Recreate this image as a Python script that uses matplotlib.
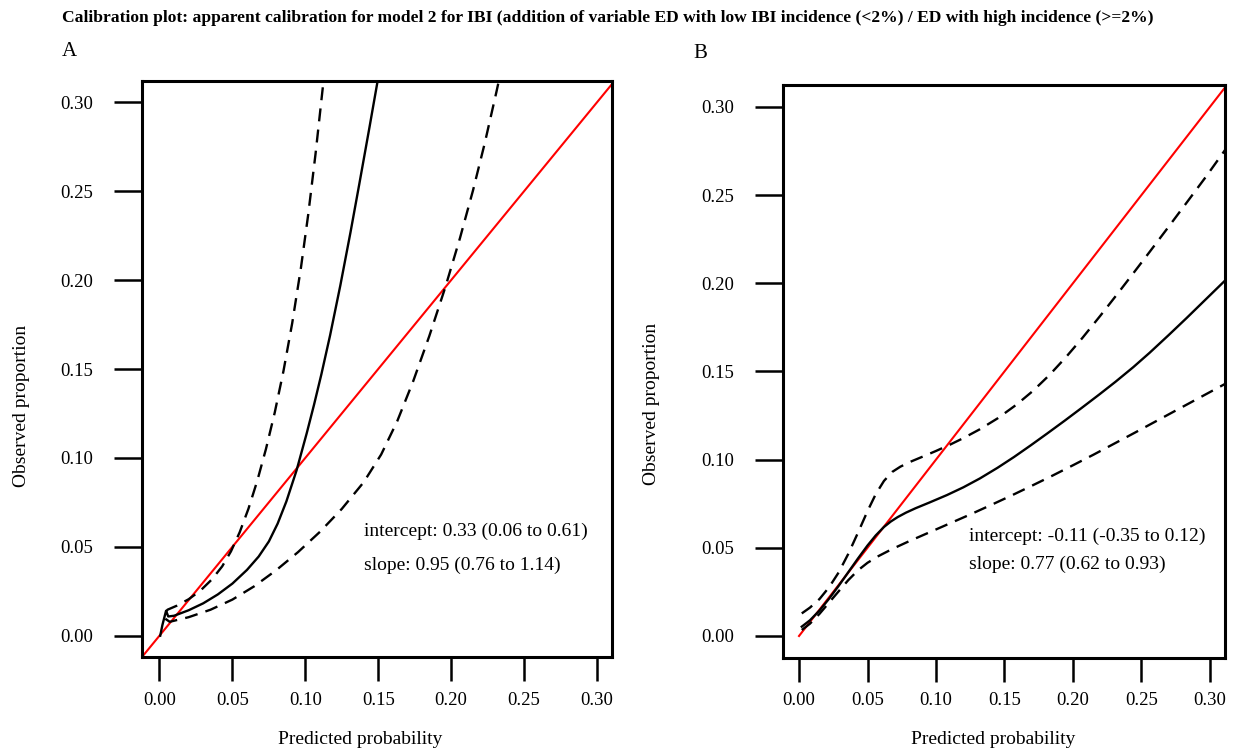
"""
Calibration plot, apparent calibration for model 2 (IBI)
Panel A: ED with low IBI incidence, Panel B: ED with high incidence
"""
import matplotlib
matplotlib.use("Agg")
import matplotlib.pyplot as plt

plt.rcParams['font.family'] = ['Liberation Serif', 'DejaVu Serif']

# ---- data ----
# panel A (low incidence)
a_fit_x = [0.0005, 0.002, 0.0045, 0.006, 0.010, 0.020, 0.030, 0.040, 0.050, 0.060,
           0.068, 0.075, 0.081, 0.087, 0.094, 0.101, 0.106, 0.111, 0.117, 0.124,
           0.131, 0.137, 0.144, 0.150, 0.152]
a_fit_y = [0.000, 0.006, 0.0140, 0.0108, 0.0112, 0.0143, 0.0182, 0.0232, 0.0293, 0.0370,
           0.0445, 0.0530, 0.0630, 0.0755, 0.093, 0.114, 0.130, 0.147, 0.169, 0.197,
           0.227, 0.254, 0.286, 0.314, 0.323]
a_up_x = [0.0045, 0.0055, 0.012, 0.020, 0.028, 0.036, 0.043, 0.049, 0.055, 0.061,
          0.067, 0.073, 0.079, 0.085, 0.091, 0.097, 0.102, 0.107, 0.112, 0.113]
a_up_y = [0.0135, 0.0146, 0.0169, 0.0205, 0.0253, 0.0317, 0.0390, 0.0474, 0.0582, 0.0714,
          0.0870, 0.105, 0.1254, 0.1488, 0.1758, 0.207, 0.237, 0.271, 0.3085, 0.316]
a_lo_x = [0.004, 0.007, 0.020, 0.035, 0.050, 0.065, 0.080, 0.095, 0.110, 0.125,
          0.140, 0.152, 0.163, 0.174, 0.185, 0.196, 0.206, 0.215, 0.223, 0.231, 0.234]
a_lo_y = [0.0095, 0.0078, 0.0104, 0.0146, 0.0203, 0.0278, 0.0368, 0.0470, 0.0584, 0.0713,
          0.0863, 0.1019, 0.1206, 0.1432, 0.1685, 0.196, 0.2235, 0.2505, 0.2769, 0.3057, 0.317]
a_ideal = [-0.05, 0.4]

# panel B (high incidence)
b_fit_x = [0.002, 0.008, 0.015, 0.022, 0.029, 0.036, 0.043, 0.050, 0.056, 0.062,
           0.067, 0.072, 0.078, 0.085, 0.095, 0.108, 0.120, 0.132, 0.145, 0.157,
           0.169, 0.181, 0.194, 0.206, 0.219, 0.231, 0.244, 0.256, 0.270, 0.283,
           0.297, 0.311]
b_fit_y = [0.0053, 0.0089, 0.0145, 0.0212, 0.0285, 0.0362, 0.0439, 0.0513, 0.0570, 0.0618,
           0.0649, 0.0674, 0.0699, 0.0724, 0.0756, 0.0799, 0.0843, 0.0893, 0.0954, 0.1015,
           0.1080, 0.1147, 0.1221, 0.1291, 0.1368, 0.1441, 0.1524, 0.1606, 0.1707, 0.1803,
           0.1909, 0.2015]
b_up_x = [0.002, 0.008, 0.015, 0.022, 0.029, 0.036, 0.043, 0.050, 0.056, 0.062,
          0.068, 0.074, 0.082, 0.090, 0.100, 0.110, 0.120, 0.132, 0.145, 0.159,
          0.171, 0.183, 0.195, 0.207, 0.220, 0.232, 0.244, 0.256, 0.270, 0.283,
          0.297, 0.311]
b_up_y = [0.0128, 0.0161, 0.0210, 0.0277, 0.0361, 0.0466, 0.0585, 0.0708, 0.0804, 0.0879,
          0.0930, 0.0960, 0.0990, 0.1016, 0.1049, 0.1084, 0.1122, 0.1172, 0.1234, 0.1313,
          0.1391, 0.1481, 0.1582, 0.1691, 0.1816, 0.1935, 0.2056, 0.2178, 0.2322, 0.2457,
          0.2603, 0.2755]
b_lo_x = [0.002, 0.008, 0.015, 0.022, 0.029, 0.036, 0.043, 0.050, 0.058, 0.068,
          0.080, 0.095, 0.110, 0.125, 0.140, 0.155, 0.170, 0.185, 0.200, 0.215,
          0.230, 0.245, 0.260, 0.275, 0.290, 0.311]
b_lo_y = [0.0034, 0.0070, 0.0126, 0.0190, 0.0254, 0.0317, 0.0372, 0.0415, 0.0453, 0.0493,
          0.0536, 0.0587, 0.0638, 0.0689, 0.0742, 0.0796, 0.0852, 0.0909, 0.0968, 0.1028,
          0.1090, 0.1152, 0.1215, 0.1278, 0.1341, 0.1429]
b_ideal = [0.0, 0.4]

ticks = [0.00, 0.05, 0.10, 0.15, 0.20, 0.25, 0.30]
tick_labels = ["0.00", "0.05", "0.10", "0.15", "0.20", "0.25", "0.30"]

title = ("Calibration plot: apparent calibration for model 2 for IBI (addition of variable ED "
         "with low IBI incidence (<2%) / ED with high incidence (>=2%)")
a_stats = ["intercept: 0.33 (0.06 to 0.61)", "slope: 0.95 (0.76 to 1.14)"]
b_stats = ["intercept: -0.11 (-0.35 to 0.12)", "slope: 0.77 (0.62 to 0.93)"]

W, H = 1236, 753
fig = plt.figure(figsize=(W / 100, H / 100), dpi=100)


def px(x, y):
    return x / W, 1 - y / H


def draw_panel(rect, fx, fy, ux, uy, lx, ly, ideal, xlim, ylim):
    ax = fig.add_axes(rect)
    ax.plot(ideal, ideal, color='#ff0000', lw=1.5, zorder=2)
    ax.plot(fx, fy, color='black', lw=1.7, zorder=3)
    ax.plot(ux, uy, color='black', lw=1.7, dashes=(5.5, 3.5), zorder=3)
    ax.plot(lx, ly, color='black', lw=1.7, dashes=(5.5, 3.5), zorder=3)
    ax.set_xlim(*xlim)
    ax.set_ylim(*ylim)
    ax.set_xticks(ticks)
    ax.set_xticklabels(tick_labels)
    ax.set_yticks(ticks)
    ax.set_yticklabels(tick_labels)
    ax.tick_params(axis='y', length=20, width=1.8, pad=15, labelsize=13.5, direction='out')
    ax.tick_params(axis='x', length=17, width=1.8, pad=8, labelsize=13.5, direction='out')
    for s in ax.spines.values():
        s.set_linewidth(2.2)
    return ax


ax_a = draw_panel([142 / W, 1 - 657 / H, 470 / W, 576 / H],
                  a_fit_x, a_fit_y, a_up_x, a_up_y, a_lo_x, a_lo_y, a_ideal,
                  (-0.012, 0.3103), (-0.012, 0.312))
ax_b = draw_panel([783 / W, 1 - 657.5 / H, 442 / W, 572.5 / H],
                  b_fit_x, b_fit_y, b_up_x, b_up_y, b_lo_x, b_lo_y, b_ideal,
                  (-0.0117, 0.311), (-0.0122, 0.3124))

# title and panel letters
fig.text(*px(62, 18), title, fontsize=12.6, fontweight='bold', va='center', ha='left')
fig.text(*px(62, 51), "A", fontsize=15, va='center', ha='left')
fig.text(*px(693, 53), "B", fontsize=15, va='center', ha='left')

# axis labels
for cx in (360, 993):
    fig.text(*px(cx, 740), "Predicted probability", fontsize=14, ha='center', va='center')
for cx, cy in ((22, 406), (652, 404)):
    fig.text(*px(cx, cy), "Observed proportion", fontsize=14, ha='center', va='center',
             rotation=90)

# calibration statistics
for i, s in enumerate(a_stats):
    fig.text(*px(364, 531 + 34 * i), s, fontsize=14, ha='left', va='center')
for i, s in enumerate(b_stats):
    fig.text(*px(969, 536 + 28 * i), s, fontsize=14, ha='left', va='center')

fig.savefig("out.png", dpi=100)
